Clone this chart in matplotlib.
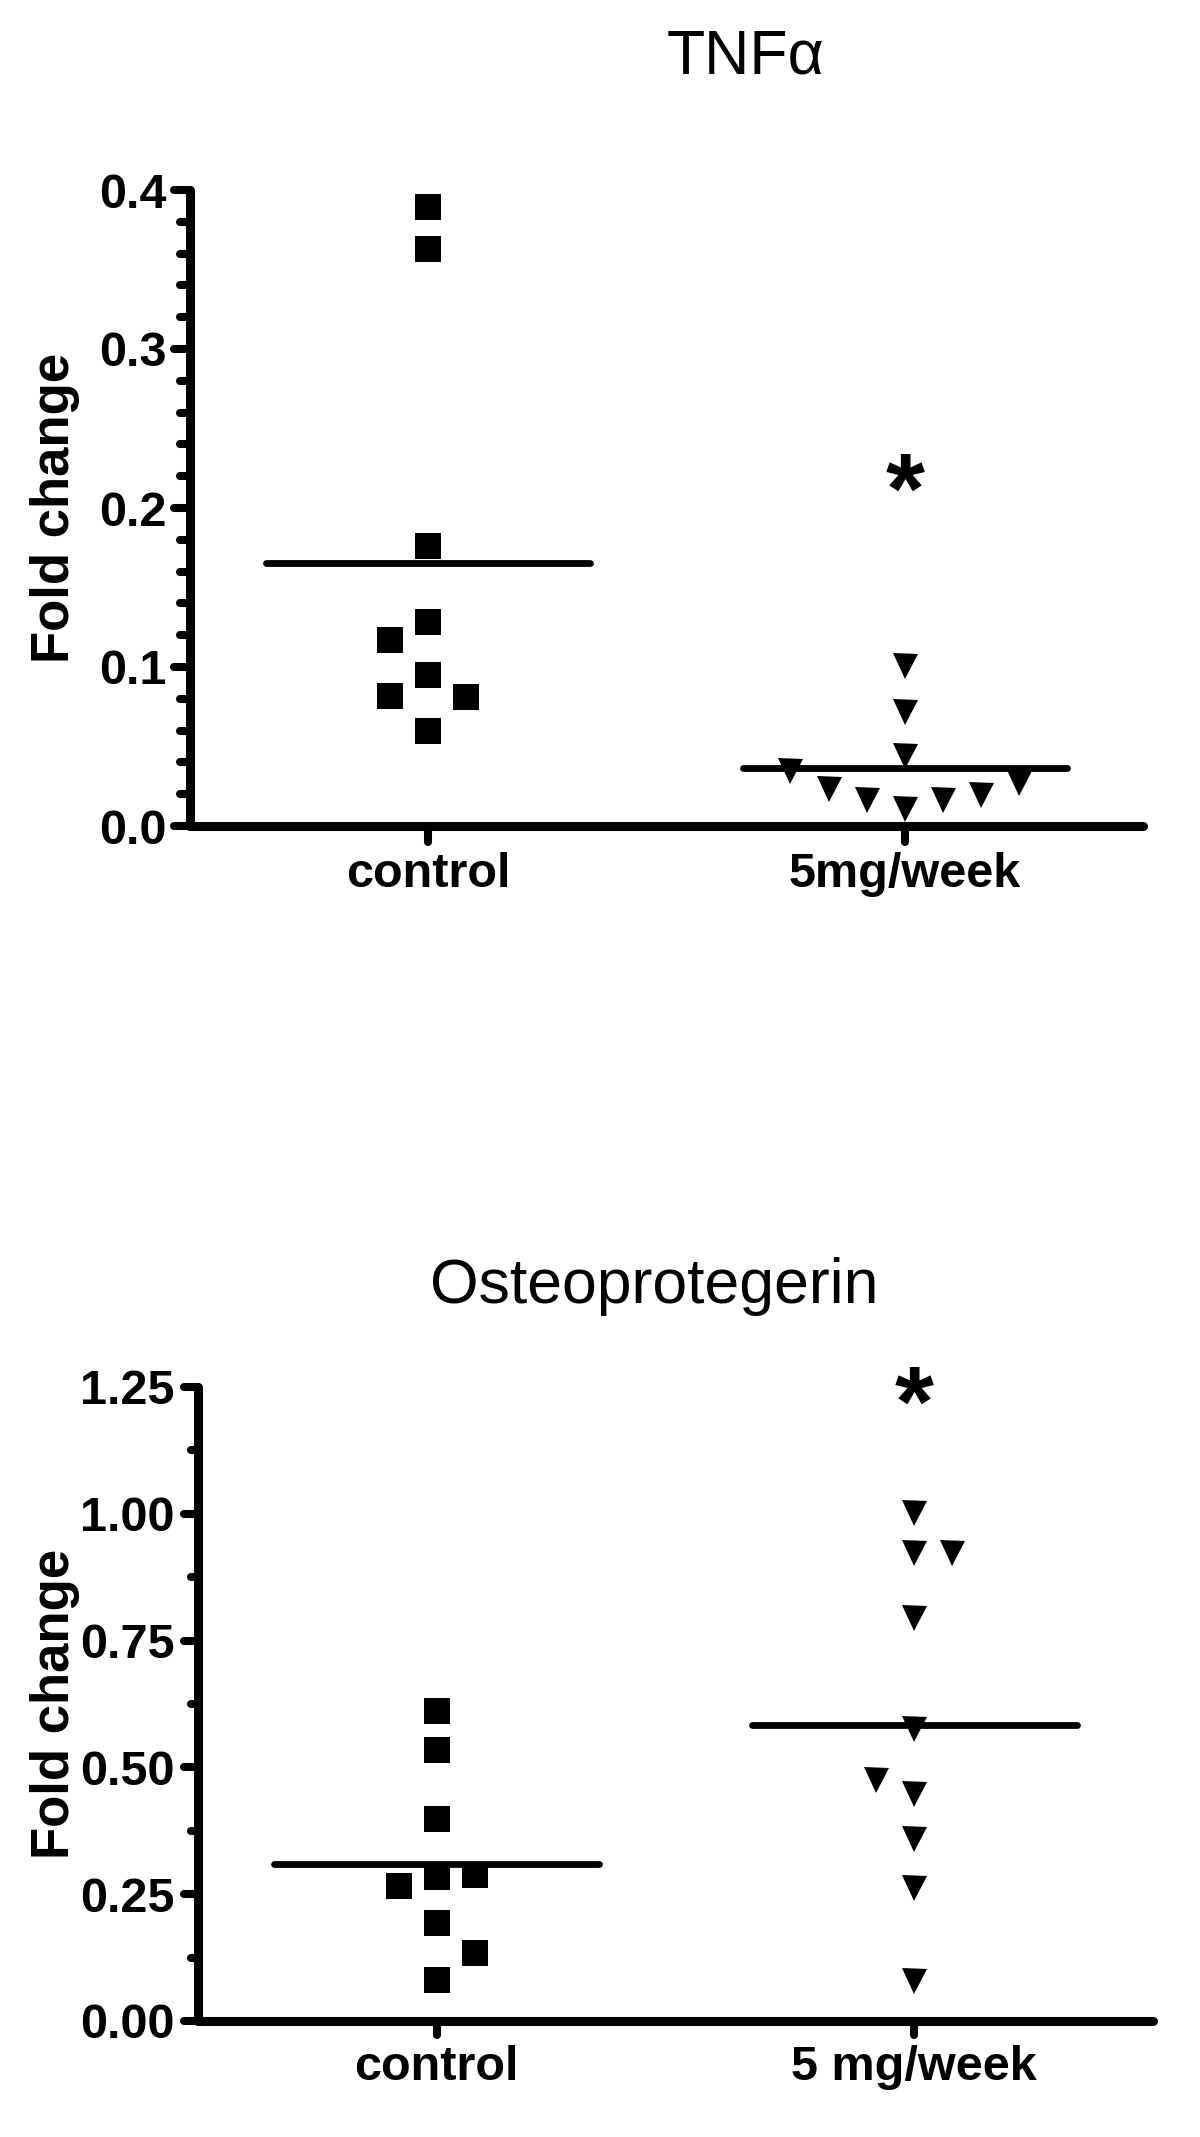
import numpy as np
import matplotlib
matplotlib.use('Agg')
import matplotlib.pyplot as plt
from matplotlib.markers import MarkerStyle, TICKLEFT, TICKDOWN

plt.rcParams['font.family'] = ['Liberation Sans', 'DejaVu Sans']

# ---------------- data ----------------
tnf_categories = ['control', '5mg/week']
opg_categories = ['control', '5 mg/week']

tnf_control = [0.389, 0.363, 0.176, 0.128, 0.117, 0.095, 0.082, 0.081, 0.060]
tnf_control_slot = [0, 0, 0, 0, -1, 0, -1, 1, 0]
tnf_treated = [0.1005, 0.0716, 0.0443, 0.0343, 0.0235, 0.0164, 0.0107, 0.0162, 0.0194, 0.0269]
tnf_treated_slot = [0, 0, 0, -3, -2, -1, 0, 1, 2, 3]

opg_control = [0.611, 0.534, 0.399, 0.267, 0.284, 0.287, 0.194, 0.134, 0.080]
opg_control_slot = [0, 0, 0, -1, 0, 1, 0, 1, 0]
opg_treated = [1.002, 0.922, 0.922, 0.794, 0.575, 0.476, 0.447, 0.358, 0.262, 0.079]
opg_treated_slot = [0, 0, 1, 0, 0, -1, 0, 0, 0, 0]

tnf_yticks = [0.0, 0.1, 0.2, 0.3, 0.4]
tnf_yticklabels = ['0.0', '0.1', '0.2', '0.3', '0.4']
opg_yticks = [0.00, 0.25, 0.50, 0.75, 1.00, 1.25]
opg_yticklabels = ['0.00', '0.25', '0.50', '0.75', '1.00', '1.25']

tnf_star_y = 0.2195
opg_star_y = 1.243

# ---------------- style ----------------
SLOT = 0.08
HALF = 0.34
SPINE_W = 6.5
TICK_W = 5.8

fig = plt.figure(figsize=(12, 21.37), dpi=100)
ax1 = fig.add_axes([190/1200, 1 - 826/2137, (1143-190)/1200, (826-190)/2137])
ax2 = fig.add_axes([198/1200, 1 - 2021/2137, (1153-198)/1200, (2021-1387)/2137])


def panel(ax, groups, slots, cats, ylim, yticks, yticklabels, minor_step,
          star_y, major_len, minor_len, ypad, label_x):
    markers = ['s', 'v']
    sizes = [19, 18]
    for i, (vals, sl) in enumerate(zip(groups, slots)):
        x = i + SLOT * np.array(sl)
        ax.plot(x, vals, ls='none', marker=markers[i], ms=sizes[i],
                color='black', mew=0, zorder=3)
        ax.hlines(np.mean(vals), i - HALF, i + HALF, color='black', lw=4.9,
                  capstyle='round', zorder=2)
    ax.set_xlim(-0.5, 1.5)
    ax.set_ylim(*ylim)
    for s in ['top', 'right']:
        ax.spines[s].set_visible(False)
    for s in ['left', 'bottom']:
        ax.spines[s].set_linewidth(SPINE_W)
        ax.spines[s].set_capstyle('round')
    ax.set_xticks(range(len(cats)))
    ax.set_xticklabels(cats, fontsize=35, fontweight='bold')
    ax.set_yticks(yticks)
    ax.set_yticklabels(yticklabels, fontsize=35, fontweight='bold')
    ax.set_yticks(np.arange(ylim[0], ylim[1] + 1e-9, minor_step), minor=True)
    ax.tick_params(axis='y', which='major', direction='out', length=major_len,
                   width=TICK_W, pad=ypad)
    ax.tick_params(axis='y', which='minor', direction='out', length=minor_len,
                   width=TICK_W)
    ax.tick_params(axis='x', which='major', direction='out', length=major_len,
                   width=TICK_W, pad=7)
    try:
        for t in ax.yaxis.get_major_ticks() + ax.yaxis.get_minor_ticks():
            t.tick1line.set_marker(MarkerStyle(TICKLEFT, capstyle='round'))
        for t in ax.xaxis.get_major_ticks():
            t.tick1line.set_marker(MarkerStyle(TICKDOWN, capstyle='round'))
    except Exception:
        pass
    ax.set_ylabel('Fold change', fontsize=38, fontweight='bold', va='center')
    ax.yaxis.set_label_coords(label_x, 0.5)
    ax.annotate('*', xy=(1, star_y), xytext=(0, -14), textcoords='offset points',
                fontsize=72, fontweight='bold', ha='center', va='center')


panel(ax1, [tnf_control, tnf_treated], [tnf_control_slot, tnf_treated_slot],
      tnf_categories, (0, 0.4), tnf_yticks, tnf_yticklabels, 0.02,
      tnf_star_y, 11.5, 7.2, 5.5, (55 - 190) / 953)
panel(ax2, [opg_control, opg_treated], [opg_control_slot, opg_treated_slot],
      opg_categories, (0, 1.25), opg_yticks, opg_yticklabels, 0.125,
      opg_star_y, 10, 5, 7.0, (55 - 198) / 955)

fig.text(667/1200, 1 - 73/2137, 'TNF\u03b1', fontsize=45, ha='left', va='baseline')
fig.text(430/1200, 1 - 1303/2137, 'Osteoprotegerin', fontsize=45, ha='left',
         va='baseline')

fig.savefig('out.png', dpi=100)
